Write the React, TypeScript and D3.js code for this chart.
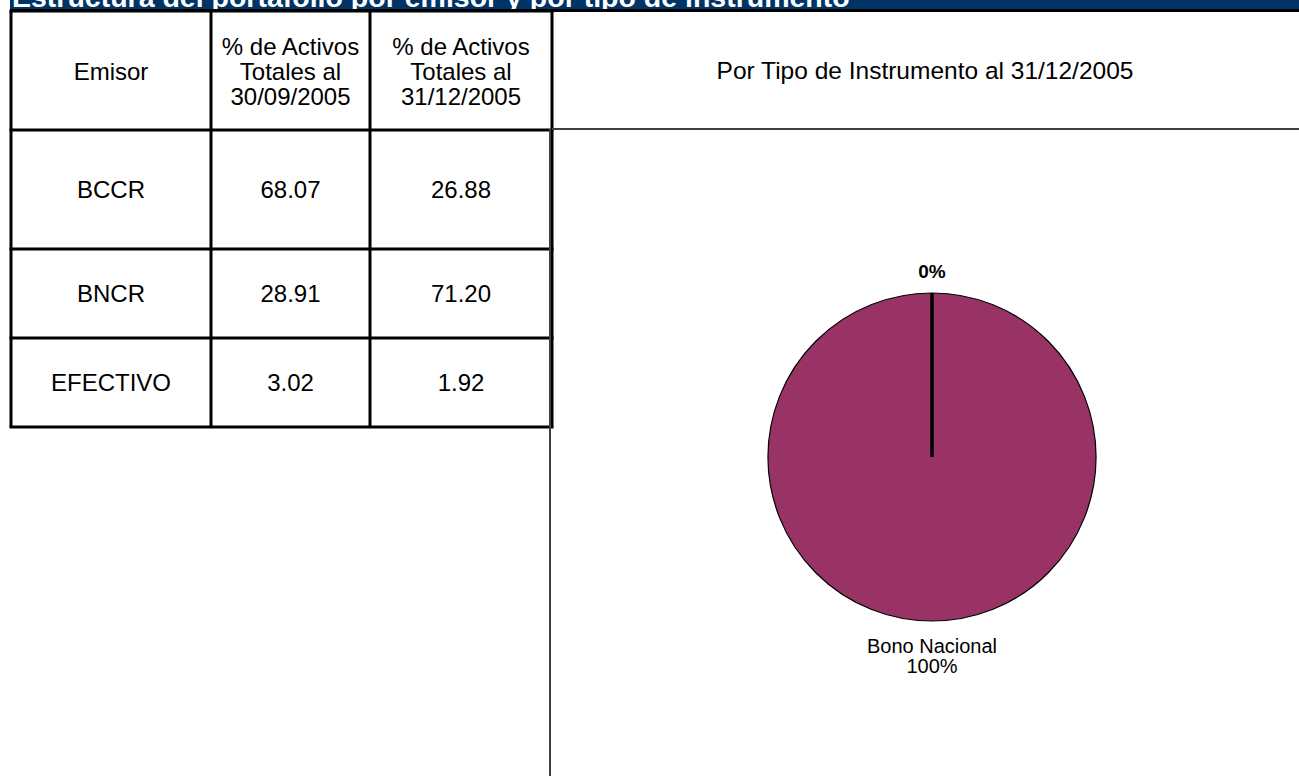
import { useEffect, useRef } from "react"
import * as d3 from "d3"

// table data
const headers = ["Emisor", "% de Activos\nTotales al\n30/09/2005", "% de Activos\nTotales al\n31/12/2005"]
const emisores = ["BCCR", "BNCR", "EFECTIVO"]
const sep2005 = [68.07, 28.91, 3.02]
const dic2005 = [26.88, 71.2, 1.92]

// pie data
const instrumentos = ["Otros", "Bono Nacional"]
const instrumentoValores = [0, 100]

const W = 1299
const H = 776
const FONT = "Liberation Sans, Arial, sans-serif"

const App = () => {
  const svgRef = useRef<SVGSVGElement | null>(null)

  useEffect(() => {
    if (!svgRef.current) return
    const svg = d3.select(svgRef.current)
    svg.selectAll("*").remove()

    // title band (cut off at top)
    svg.append("rect").attr("x", 10).attr("y", 0).attr("width", W - 10).attr("height", 10).attr("fill", "#003366")
    svg
      .append("text")
      .attr("x", 12)
      .attr("y", 7)
      .attr("fill", "#fff")
      .attr("font-family", FONT)
      .attr("font-weight", "bold")
      .attr("font-size", 28.5)
      .text("Estructura del portafolio por emisor y por tipo de instrumento")
    svg.append("rect").attr("x", 10).attr("y", 9).attr("width", W - 10).attr("height", 3).attr("fill", "#000")

    // table layout
    const colEdges = [11, 211, 370, 552]
    const rowEdges = [11, 130, 249, 338, 427]
    const fs = 24

    const g = svg.append("g")

    // header texts
    headers.forEach((h, i) => {
      const lines = h.split("\n")
      const cx = (colEdges[i] + colEdges[i + 1]) / 2
      const cy = (rowEdges[0] + rowEdges[1]) / 2 + 1
      const lh = 25
      const t = g
        .append("text")
        .attr("text-anchor", "middle")
        .attr("font-family", FONT)
        .attr("font-size", fs)
        .attr("fill", "#000")
      lines.forEach((l, j) => {
        t.append("tspan")
          .attr("x", cx)
          .attr("y", cy + (j - (lines.length - 1) / 2) * lh + 8.5)
          .text(l)
      })
    })

    // body rows
    const fmt = d3.format(".2f")
    emisores.forEach((e, i) => {
      const cells = [e, fmt(sep2005[i]), fmt(dic2005[i])]
      const cy = (rowEdges[i + 1] + rowEdges[i + 2]) / 2
      cells.forEach((c, j) => {
        g.append("text")
          .attr("x", (colEdges[j] + colEdges[j + 1]) / 2)
          .attr("y", cy + 8.5)
          .attr("text-anchor", "middle")
          .attr("font-family", FONT)
          .attr("font-size", fs)
          .attr("fill", "#000")
          .text(c)
      })
    })

    // right panel grey lines
    svg.append("line").attr("x1", 550).attr("x2", 550).attr("y1", 129).attr("y2", H).attr("stroke", "#404040").attr("stroke-width", 2)
    svg.append("line").attr("x1", 552).attr("x2", W).attr("y1", 129).attr("y2", 129).attr("stroke", "#404040").attr("stroke-width", 2)

    // table grid
    rowEdges.forEach((y) => {
      g.append("line").attr("x1", colEdges[0] - 1.5).attr("x2", colEdges[3] + 1.5).attr("y1", y).attr("y2", y).attr("stroke", "#000").attr("stroke-width", 3)
    })
    colEdges.forEach((x) => {
      g.append("line").attr("x1", x).attr("x2", x).attr("y1", rowEdges[0]).attr("y2", rowEdges[rowEdges.length - 1]).attr("stroke", "#000").attr("stroke-width", 3)
    })

    // pie title
    svg
      .append("text")
      .attr("x", 925)
      .attr("y", 79)
      .attr("text-anchor", "middle")
      .attr("font-family", FONT)
      .attr("font-size", 24.5)
      .text("Por Tipo de Instrumento al 31/12/2005")

    // pie
    const cx = 932
    const cy = 457
    const r = 164
    const pieData = d3
      .pie<number>()
      .sort(null)
      .value((d) => d)(instrumentoValores)
    const arc = d3.arc<d3.PieArcDatum<number>>().innerRadius(0).outerRadius(r)
    const pg = svg.append("g").attr("transform", `translate(${cx},${cy})`)

    pg.selectAll("path.slice")
      .data(pieData)
      .join("path")
      .attr("class", "slice")
      .attr("d", arc)
      .attr("fill", "#993366")
      .attr("stroke", "#000")
      .attr("stroke-width", 1.2)

    // slice edges
    pg.selectAll("line.edge")
      .data(pieData)
      .join("line")
      .attr("class", "edge")
      .attr("x1", 0)
      .attr("y1", 0)
      .attr("x2", (d) => Math.sin(d.startAngle) * r)
      .attr("y2", (d) => -Math.cos(d.startAngle) * r)
      .attr("stroke", "#000")
      .attr("stroke-width", 3)

    // labels
    const pct = (v: number) => `${Math.round(v)}%`
    pieData.forEach((d, i) => {
      const mid = (d.startAngle + d.endAngle) / 2
      const lr = r + 23
      const lx = Math.sin(mid) * lr
      const ly = -Math.cos(mid) * lr
      if (instrumentoValores[i] === 0) {
        pg.append("text")
          .attr("x", lx)
          .attr("y", ly + 8)
          .attr("text-anchor", "middle")
          .attr("font-family", FONT)
          .attr("font-weight", "bold")
          .attr("font-size", 19)
          .text(pct(instrumentoValores[i]))
      } else {
        const t = pg
          .append("text")
          .attr("text-anchor", "middle")
          .attr("font-family", FONT)
          .attr("font-size", 20)
        t.append("tspan").attr("x", lx).attr("y", ly + 9).text(instrumentos[i])
        t.append("tspan").attr("x", lx).attr("y", ly + 29).text(pct(instrumentoValores[i]))
      }
    })
  }, [])

  return (
    <div style={{ position: "fixed", left: 0, top: 0, width: W, height: H, background: "#fff" }}>
      <svg ref={svgRef} width={W} height={H} />
    </div>
  )
}

export default App
